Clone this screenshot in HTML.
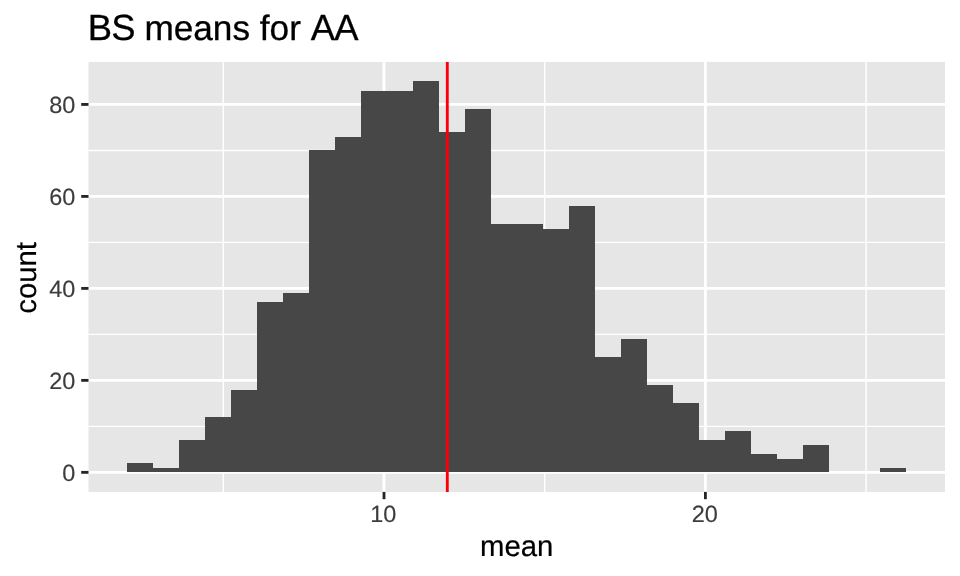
<!DOCTYPE html>
<html lang="en"><head><meta charset="utf-8"><title>BS means for AA</title>
<style>html,body{margin:0;padding:0;background:#fff;}svg{display:block;}text{font-kerning:none;text-rendering:geometricPrecision;font-family:"Liberation Sans",Arial,Helvetica,sans-serif;}</style></head><body>
<svg width="960" height="576" viewBox="0 0 960 576">
<rect x="0" y="0" width="960" height="576" fill="#ffffff"/>
<rect x="88.5" y="61.9" width="856.5" height="430.00" fill="#E6E6E6"/>
<g stroke="#ffffff" stroke-width="1.42" fill="none">
<line x1="88.5" x2="945.0" y1="426.36" y2="426.36"/>
<line x1="88.5" x2="945.0" y1="334.38" y2="334.38"/>
<line x1="88.5" x2="945.0" y1="242.41" y2="242.41"/>
<line x1="88.5" x2="945.0" y1="150.43" y2="150.43"/>
<line y1="61.9" y2="491.9" x1="223.30" x2="223.30"/>
<line y1="61.9" y2="491.9" x1="544.70" x2="544.70"/>
<line y1="61.9" y2="491.9" x1="866.10" x2="866.10"/>
</g>
<g stroke="#ffffff" stroke-width="2.85" fill="none">
<line x1="88.5" x2="945.0" y1="472.35" y2="472.35"/>
<line x1="88.5" x2="945.0" y1="380.37" y2="380.37"/>
<line x1="88.5" x2="945.0" y1="288.39" y2="288.39"/>
<line x1="88.5" x2="945.0" y1="196.42" y2="196.42"/>
<line x1="88.5" x2="945.0" y1="104.44" y2="104.44"/>
<line y1="61.9" y2="491.9" x1="384.00" x2="384.00"/>
<line y1="61.9" y2="491.9" x1="705.40" x2="705.40"/>
</g>
<path shape-rendering="crispEdges" fill="#474747" d="M127,472 L127,463 L153,463 L153,468 L179,468 L179,440 L205,440 L205,417 L231,417 L231,390 L257,390 L257,302 L283,302 L283,293 L309,293 L309,150 L335,150 L335,137 L361,137 L361,91 L387,91 L387,91 L413,91 L413,81 L439,81 L439,132 L465,132 L465,109 L491,109 L491,224 L517,224 L517,224 L543,224 L543,229 L569,229 L569,206 L595,206 L595,357 L621,357 L621,339 L647,339 L647,385 L673,385 L673,403 L699,403 L699,440 L725,440 L725,431 L751,431 L751,454 L777,454 L777,459 L803,459 L803,445 L829,445 L829,472Z M880,472 L880,468 L906,468 L906,472Z"/>
<line x1="447.3" x2="447.3" y1="61.9" y2="491.9" stroke="#FB0007" stroke-width="2.85"/>
<g stroke="#262626" stroke-width="2.85" fill="none">
<line x1="81.20" x2="88.5" y1="472.35" y2="472.35"/>
<line x1="81.20" x2="88.5" y1="380.37" y2="380.37"/>
<line x1="81.20" x2="88.5" y1="288.39" y2="288.39"/>
<line x1="81.20" x2="88.5" y1="196.42" y2="196.42"/>
<line x1="81.20" x2="88.5" y1="104.44" y2="104.44"/>
<line y1="491.9" y2="499.20" x1="384.00" x2="384.00"/>
<line y1="491.9" y2="499.20" x1="705.40" x2="705.40"/>
</g>
<g fill="#3C3C3C" stroke="#3C3C3C" stroke-width="0.15" font-size="23.47">
<text x="75.30" y="481.35" text-anchor="end">0</text>
<text x="75.30" y="389.37" text-anchor="end">20</text>
<text x="75.30" y="297.39" text-anchor="end">40</text>
<text x="75.30" y="205.42" text-anchor="end">60</text>
<text x="75.30" y="113.44" text-anchor="end">80</text>
<text x="383.30" y="522.10" text-anchor="middle">10</text>
<text x="704.70" y="522.10" text-anchor="middle">20</text>
</g>
<text x="516.75" y="556" text-anchor="middle" font-size="29.33" fill="#000" stroke="#000" stroke-width="0.2">mean</text>
<text transform="translate(36,277.90) rotate(-90)" text-anchor="middle" font-size="29.33" fill="#000" stroke="#000" stroke-width="0.2">count</text>
<text x="87.7" y="40" font-size="35.2" fill="#000" stroke="#000" stroke-width="0.3"><tspan font-size="36.4" letter-spacing="-0.8">BS</tspan> means for <tspan font-size="36.4" letter-spacing="-0.8">AA</tspan></text>
</svg></body></html>
